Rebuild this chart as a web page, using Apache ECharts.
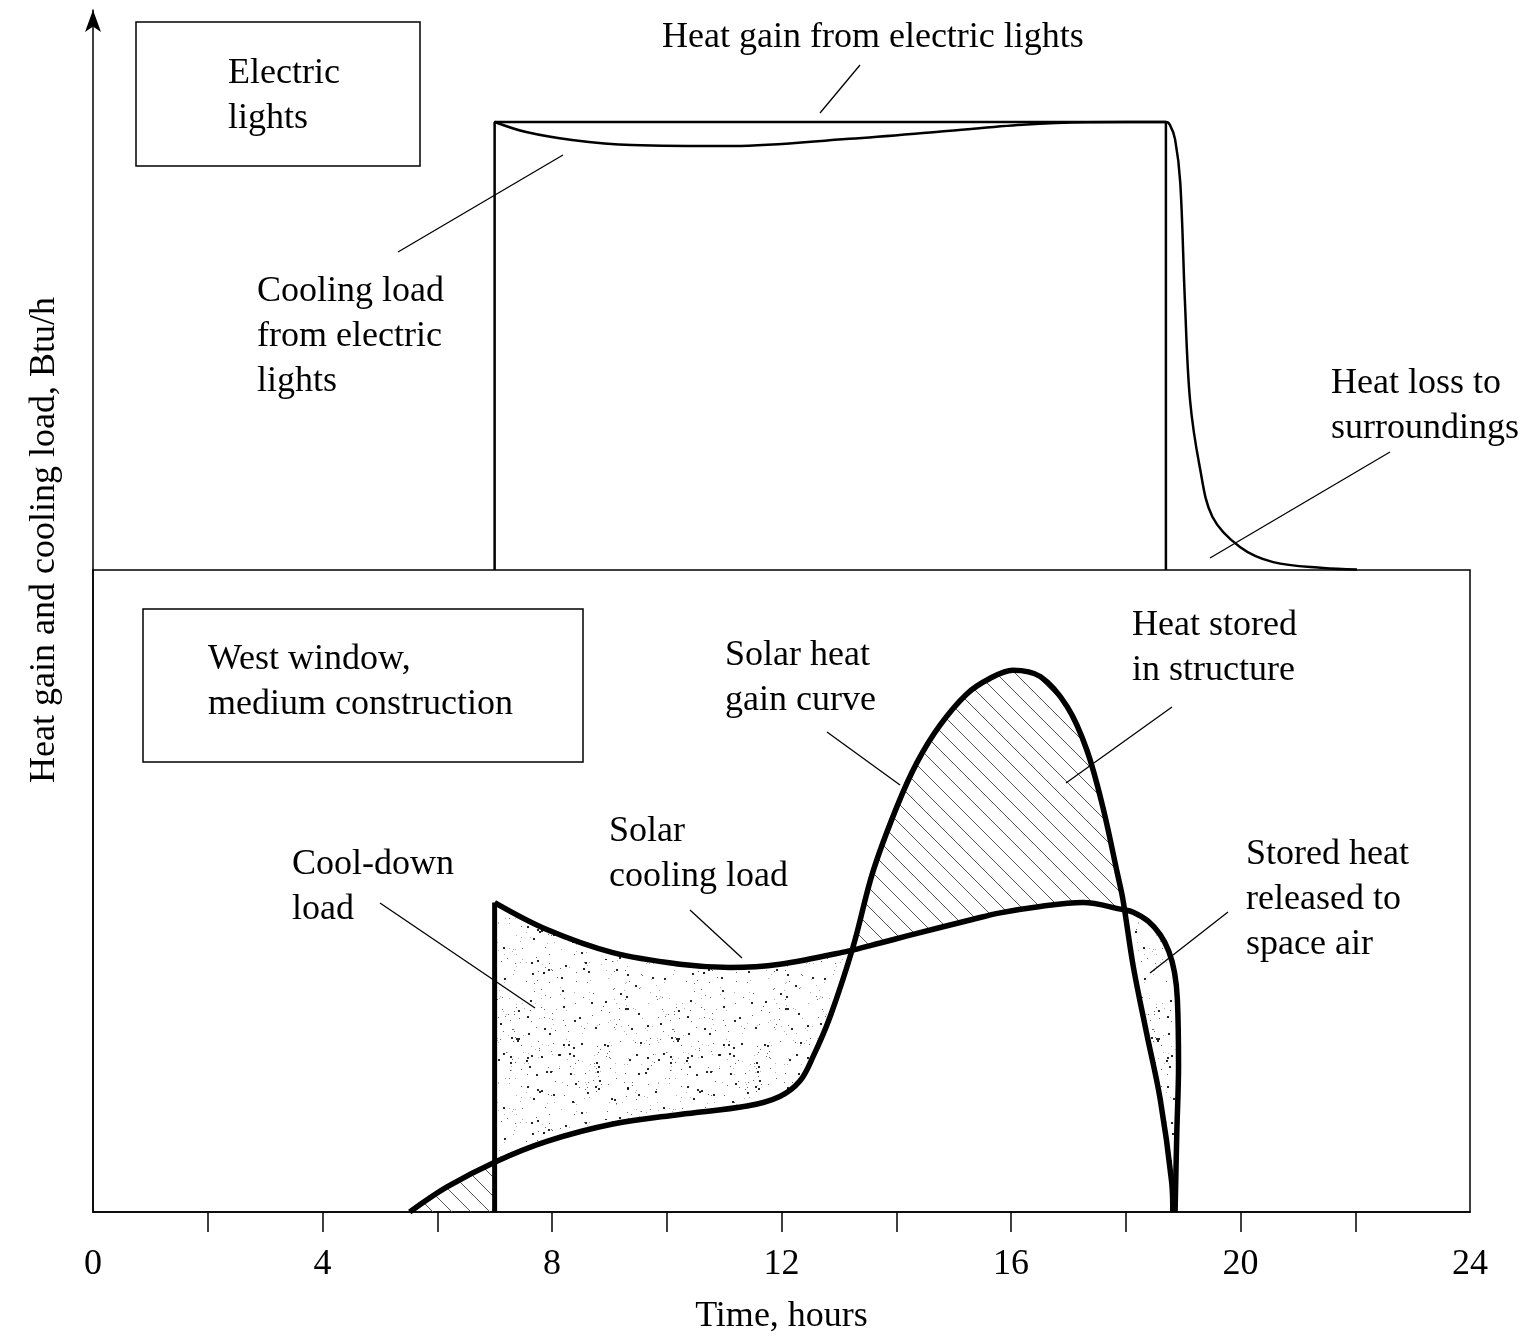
<!DOCTYPE html>
<html>
<head>
<meta charset="utf-8">
<script src="https://cdn.jsdelivr.net/npm/echarts@6/dist/echarts.min.js"></script>
<style>
html,body{margin:0;padding:0;background:#fff;}
#chart{width:1529px;height:1336px;}
</style>
</head>
<body>
<div id="chart"></div>
<script>
// ---------------- DATA ----------------
const xTickLabels = ['0', '4', '8', '12', '16', '20', '24'];
const xTickMarks = [2, 4, 6, 8, 10, 12, 14, 16, 18, 20, 22];

// Upper panel: electric lights (hours, relative Btu/h)
const lightsHeatGain = [[7.0, 0], [7.0, 80], [18.7, 80], [18.7, 0]];
const lightsCoolingLoad = [
  [7.0, 80], [7.55, 78.2], [8.35, 76.8], [9.39, 75.9], [11.15, 75.7], [13.18, 77.0],
  [14.78, 78.3], [16.2, 79.5], [17.3, 79.95], [18.70, 80], [18.77, 79.5], [18.86, 76.9],
  [18.95, 69.2], [19.03, 48.3], [19.12, 30.4], [19.29, 18.4], [19.51, 9.5], [19.99, 4.1],
  [20.57, 1.4], [21.44, 0.36], [22.03, 0.1]
];

// Lower panel: west window, medium construction
const solarHeatGain = [
  [5.52, 0], [6.17, 3.9], [7.01, 7.8], [7.91, 11.0], [9.06, 13.7], [10.23, 15.2],
  [11.40, 16.5], [11.97, 18.0], [12.32, 20.4], [12.55, 24.2], [12.85, 30.5], [13.25, 41.4],
  [13.59, 52.9], [14.01, 63.1], [14.36, 70.0], [14.76, 75.8], [15.23, 80.7], [15.63, 83.1],
  [16.03, 84.4], [16.51, 83.4], [16.98, 78.7], [17.32, 72.0], [17.60, 63.1], [17.85, 52.9],
  [17.95, 48.7], [18.13, 38.3], [18.36, 28.0], [18.60, 17.6], [18.80, 4.7], [18.82, 0]
];
const solarCoolingLoad = [
  [7.0, 48.2], [7.91, 44.0], [9.06, 40.4], [10.23, 38.6], [11.10, 38.1], [11.97, 38.6],
  [13.14, 40.6], [13.72, 41.9], [14.19, 43.0], [15.34, 45.6], [15.81, 46.6], [16.51, 47.6],
  [17.25, 48.2], [17.95, 47.1], [18.13, 46.7], [18.39, 45.3], [18.60, 43.2], [18.75, 40.6],
  [18.85, 37.3], [18.90, 33.1], [18.92, 22.8], [18.89, 12.4], [18.86, 0]
];

// ---------------- GEOMETRY HELPERS ----------------
function segHit(p1, p2, p3, p4) {
  const d = (p2[0]-p1[0])*(p4[1]-p3[1]) - (p2[1]-p1[1])*(p4[0]-p3[0]);
  if (Math.abs(d) < 1e-12) return null;
  const t = ((p3[0]-p1[0])*(p4[1]-p3[1]) - (p3[1]-p1[1])*(p4[0]-p3[0])) / d;
  const u = ((p3[0]-p1[0])*(p2[1]-p1[1]) - (p3[1]-p1[1])*(p2[0]-p1[0])) / d;
  if (t < 0 || t > 1 || u < 0 || u > 1) return null;
  return [p1[0] + t*(p2[0]-p1[0]), p1[1] + t*(p2[1]-p1[1])];
}
function crossings(A, B) {
  const out = [];
  for (let i = 0; i < A.length-1; i++) for (let j = 0; j < B.length-1; j++) {
    const h = segHit(A[i], A[i+1], B[j], B[j+1]);
    if (h) out.push({pt: h, i: i, j: j});
  }
  return out.sort((a, b) => a.pt[0] - b.pt[0]);
}
function yAt(poly, x) {
  for (let k = 0; k < poly.length-1; k++) {
    const a = poly[k], b = poly[k+1];
    if ((a[0] <= x && b[0] >= x)) return a[1] + (b[1]-a[1]) * (x-a[0]) / (b[0]-a[0]);
  }
  return 0;
}

const cr = crossings(solarCoolingLoad, solarHeatGain);
const c1 = cr[0], c2 = cr[cr.length-1];
const x7 = solarCoolingLoad[0][0];

const polyEarly = solarHeatGain.filter(p => p[0] < x7).concat([[x7, yAt(solarHeatGain, x7)], [x7, 0]]);
const polyCoolDown = [];
for (let k = 0; k <= c1.i; k++) polyCoolDown.push(solarCoolingLoad[k]);
polyCoolDown.push(c1.pt);
for (let k = c1.j; k >= 0 && solarHeatGain[k][0] >= x7; k--) polyCoolDown.push(solarHeatGain[k]);
polyCoolDown.push([x7, yAt(solarHeatGain, x7)]);
const polyStored = [c1.pt];
for (let k = c1.j+1; k <= c2.j; k++) polyStored.push(solarHeatGain[k]);
polyStored.push(c2.pt);
for (let k = c2.i; k > c1.i; k--) polyStored.push(solarCoolingLoad[k]);
const polyReleased = [c2.pt];
for (let k = c2.i+1; k < solarCoolingLoad.length; k++) polyReleased.push(solarCoolingLoad[k]);
for (let k = solarHeatGain.length-1; k > c2.j; k--) polyReleased.push(solarHeatGain[k]);

// ---------------- PATTERNS ----------------
function hatchPattern(size, color) {
  const c = document.createElement('canvas');
  c.width = size; c.height = size;
  const g = c.getContext('2d');
  g.strokeStyle = color; g.lineWidth = 1;
  g.beginPath();
  for (const k of [-size, 0, size]) {
    g.moveTo(-2, -2 + k); g.lineTo(size + 2, size + 2 + k);
  }
  g.stroke();
  return {image: c, repeat: 'repeat'};
}
function stipplePattern(size, count) {
  const c = document.createElement('canvas');
  c.width = size; c.height = size;
  const g = c.getContext('2d');
  let s = 987654;
  const rnd = () => { s = (s * 1103515245 + 12345) & 0x7fffffff; return s / 0x7fffffff; };
  for (let n = 0; n < count; n++) {
    const x = Math.floor(rnd() * size), y = Math.floor(rnd() * size);
    const dark = rnd();
    if (dark > 0.75) { g.fillStyle = 'rgba(0,0,0,0.85)'; g.fillRect(x, y, 2, 2); }
    else if (dark > 0.4) { g.fillStyle = 'rgba(0,0,0,0.6)'; g.fillRect(x, y, 1, 1); }
    else { g.fillStyle = 'rgba(0,0,0,0.3)'; g.fillRect(x, y, 1, 1); }
  }
  return {image: c, repeat: 'repeat'};
}
const hatch = hatchPattern(19, '#555');
const stipple = stipplePattern(160, 420);

const regions = [
  {poly: polyEarly, fill: hatch},
  {poly: polyCoolDown, fill: stipple},
  {poly: polyStored, fill: hatch},
  {poly: polyReleased, fill: stipple}
];

// ---------------- LAYOUT / TEXT ----------------
const FAMILY = '"Liberation Serif", "Times New Roman", serif';
const FONT = '36px ' + FAMILY;
const LH = 45;
function label(text, x, firstCenterY) {
  return {type: 'text', x: x, y: firstCenterY + 3 - LH/2, z: 10,
    style: {text: text, font: FONT, fill: '#000', lineHeight: LH, align: 'left', verticalAlign: 'top'}};
}
function leader(x1, y1, x2, y2) {
  return {type: 'line', z: 10, shape: {x1: x1, y1: y1, x2: x2, y2: y2}, style: {stroke: '#000', lineWidth: 1.3}};
}
function box(x, y, w, h) {
  return {type: 'rect', z: 10, shape: {x: x, y: y, width: w, height: h}, style: {fill: 'none', stroke: '#000', lineWidth: 1.5}};
}

const graphics = [
  box(136, 22, 284, 144),
  label('Electric\nlights', 228, 71),
  label('Heat gain from electric lights', 662, 35),
  leader(860, 65, 820, 113),
  label('Cooling load\nfrom electric\nlights', 257, 289),
  leader(398, 252, 563, 155),
  label('Heat loss to\nsurroundings', 1331, 381),
  leader(1390, 452, 1210, 558),
  box(143, 609, 440, 153),
  label('West window,\nmedium construction', 208, 657),
  label('Solar heat\ngain curve', 725, 653),
  leader(827, 732, 900, 785),
  label('Heat stored\nin structure', 1132, 623),
  leader(1172, 707, 1066, 783),
  label('Solar\ncooling load', 609, 829),
  leader(690, 910, 742, 958),
  label('Cool-down\nload', 292, 862),
  leader(380, 903, 535, 1008),
  label('Stored heat\nreleased to\nspace air', 1246, 852),
  leader(1228, 912, 1150, 973),
  {type: 'text', x: 45, y: 540, rotation: Math.PI/2, z: 10,
    style: {text: 'Heat gain and cooling load, Btu/h', font: FONT, fill: '#000', align: 'center', verticalAlign: 'middle'}}
];

// ---------------- CHART ----------------
const chart = echarts.init(document.getElementById('chart'), null, {renderer: 'canvas'});
const lineBase = {type: 'line', symbol: 'none', showSymbol: false, animation: false, z: 5, silent: true};

chart.setOption({
  animation: false,
  backgroundColor: '#fff',
  grid: [
    {left: 93, right: 59, top: 10, height: 560, show: false},
    {left: 93, right: 59, top: 570, height: 643, show: true, borderColor: '#000', borderWidth: 1.5, backgroundColor: 'transparent'}
  ],
  xAxis: [
    {type: 'value', gridIndex: 0, min: 0, max: 24, show: false},
    {type: 'value', gridIndex: 1, min: 0, max: 24, interval: 2,
      axisLine: {show: true, lineStyle: {color: '#000', width: 1.5}},
      axisTick: {show: true, inside: false, length: 20, lineStyle: {color: '#000', width: 1.5}, customValues: xTickMarks},
      axisLabel: {show: true, margin: 35, color: '#000', fontSize: 36, fontFamily: FAMILY,
        customValues: xTickLabels.map(Number), formatter: v => xTickLabels.includes(String(v)) ? String(v) : ''},
      splitLine: {show: false},
      name: 'Time, hours', nameLocation: 'middle', nameGap: 87,
      nameTextStyle: {color: '#000', fontSize: 36, fontFamily: FAMILY}}
  ],
  yAxis: [
    {type: 'value', gridIndex: 0, min: 0, max: 100,
      axisLine: {show: true, symbol: ['none', 'arrow'], symbolSize: [12, 22], lineStyle: {color: '#000', width: 1.5}},
      axisTick: {show: false}, axisLabel: {show: false}, splitLine: {show: false}},
    {type: 'value', gridIndex: 1, min: 0, max: 100,
      axisLine: {show: true, lineStyle: {color: '#000', width: 1.5}},
      axisTick: {show: false}, axisLabel: {show: false}, splitLine: {show: false}}
  ],
  graphic: graphics,
  series: [
    {type: 'custom', xAxisIndex: 1, yAxisIndex: 1, z: 2, silent: true, animation: false,
      data: regions.map((r, i) => [i, 0]),
      renderItem: function (params, api) {
        const r = regions[params.dataIndex];
        return {type: 'polygon', shape: {points: r.poly.map(p => api.coord(p))}, style: {fill: r.fill, stroke: null}};
      }},
    Object.assign({}, lineBase, {name: 'Heat gain from electric lights', xAxisIndex: 0, yAxisIndex: 0, data: lightsHeatGain,
      lineStyle: {color: '#000', width: 2.5}}),
    Object.assign({}, lineBase, {name: 'Cooling load from electric lights', xAxisIndex: 0, yAxisIndex: 0, data: lightsCoolingLoad,
      smooth: 0.35, lineStyle: {color: '#000', width: 2.5}}),
    Object.assign({}, lineBase, {name: 'Solar heat gain', xAxisIndex: 1, yAxisIndex: 1, data: solarHeatGain,
      smooth: 0.35, lineStyle: {color: '#000', width: 5.5}}),
    Object.assign({}, lineBase, {name: 'Solar cooling load start', xAxisIndex: 1, yAxisIndex: 1,
      data: [[solarCoolingLoad[0][0], 0], solarCoolingLoad[0]], lineStyle: {color: '#000', width: 5}}),
    Object.assign({}, lineBase, {name: 'Solar cooling load', xAxisIndex: 1, yAxisIndex: 1, data: solarCoolingLoad,
      smooth: 0.35, lineStyle: {color: '#000', width: 5.5}})
  ]
});
</script>
</body>
</html>
